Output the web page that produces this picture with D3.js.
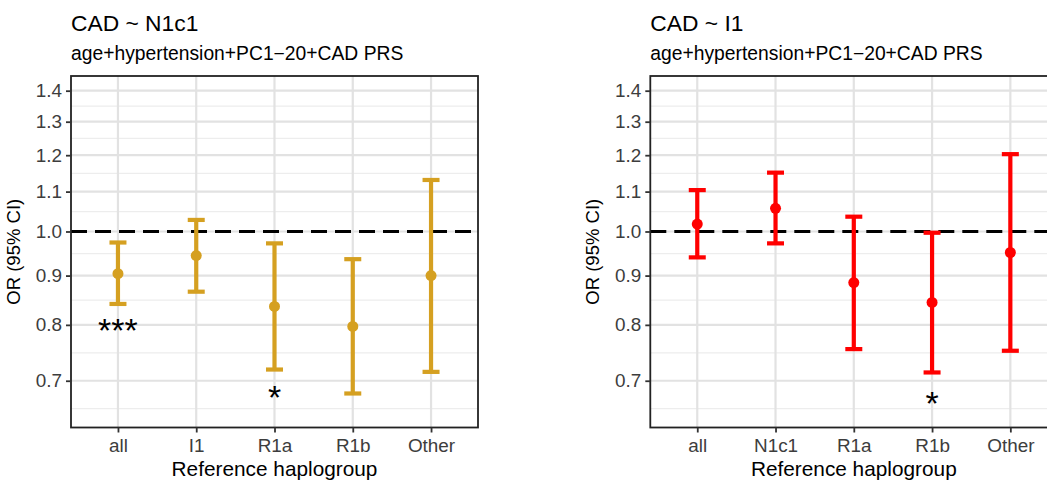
<!DOCTYPE html>
<html>
<head>
<meta charset="utf-8">
<script src="https://cdn.jsdelivr.net/npm/d3@7"></script>
<style>
  body { margin: 0; background: #fff; }
  svg { display: block; font-family: "Liberation Sans", Arial, sans-serif; }
</style>
</head>
<body>
<div id="chart"></div>
<script>
// values
var catsN1c1 = ["all", "I1", "R1a", "R1b", "Other"];
var orN1c1 = [0.904, 0.944, 0.836, 0.797, 0.900];
var loN1c1 = [0.841, 0.866, 0.719, 0.679, 0.715];
var hiN1c1 = [0.974, 1.028, 0.972, 0.936, 1.131];
var starN1c1 = ["***", "", "*", "", ""];
var starYN1c1 = [0.805, null, 0.686, null, null];

var catsI1 = ["all", "N1c1", "R1a", "R1b", "Other"];
var orI1 = [1.018, 1.057, 0.885, 0.844, 0.951];
var loI1 = [0.940, 0.972, 0.755, 0.714, 0.752];
var hiI1 = [1.104, 1.151, 1.036, 0.997, 1.203];
var starI1 = ["", "", "", "*", ""];
var starYI1 = [null, null, null, 0.675, null];

var yTicks = [0.7, 0.8, 0.9, 1.0, 1.1, 1.2, 1.3, 1.4];
var yDomain = [0.626, 1.45];

var W = 1047, H = 481;
var svg = d3.select("#chart").append("svg").attr("width", W).attr("height", H);

// note: "top" is taken by window.top, so panel edges get other names
var pTop = 76, pBottom = 427.5, pw = 407;

var y = d3.scaleLog().domain(yDomain).range([pBottom, pTop]);

// minor breaks: midpoints in log space, plus one below the first major
var lt = yTicks.map(Math.log);
var minor = [];
minor.push(Math.exp(lt[0] - (lt[1] - lt[0]) / 2));
for (var i = 0; i < lt.length - 1; i++) minor.push(Math.exp((lt[i] + lt[i + 1]) / 2));

function panel(x0, title, cats, or, lo, hi, stars, starY, colour) {
    var g = svg.append("g");
    var x = d3.scalePoint().domain(cats).range([x0, x0 + pw]).padding(0.6);

    // grid
    g.selectAll(".minor").data(minor).enter().append("line")
        .attr("x1", x0).attr("x2", x0 + pw)
        .attr("y1", function (d) { return y(d); }).attr("y2", function (d) { return y(d); })
        .attr("stroke", "#EDEDED").attr("stroke-width", 1.2);
    g.selectAll(".major").data(yTicks).enter().append("line")
        .attr("x1", x0).attr("x2", x0 + pw)
        .attr("y1", function (d) { return y(d); }).attr("y2", function (d) { return y(d); })
        .attr("stroke", "#E2E2E2").attr("stroke-width", 2.2);
    g.selectAll(".vgrid").data(cats).enter().append("line")
        .attr("x1", function (d) { return x(d); }).attr("x2", function (d) { return x(d); })
        .attr("y1", pTop).attr("y2", pBottom)
        .attr("stroke", "#E2E2E2").attr("stroke-width", 2.2);

    // reference line
    g.append("line")
        .attr("x1", x0).attr("x2", x0 + pw).attr("y1", y(1)).attr("y2", y(1))
        .attr("stroke", "#000").attr("stroke-width", 3.2).attr("stroke-dasharray", "16,8");

    // error bars
    var idx = d3.range(cats.length);
    var cw = 8.5;
    g.selectAll(".ci").data(idx).enter().append("line")
        .attr("x1", function (i) { return x(cats[i]); }).attr("x2", function (i) { return x(cats[i]); })
        .attr("y1", function (i) { return y(lo[i]); }).attr("y2", function (i) { return y(hi[i]); })
        .attr("stroke", colour).attr("stroke-width", 4.2);
    g.selectAll(".capHi").data(idx).enter().append("line")
        .attr("x1", function (i) { return x(cats[i]) - cw; }).attr("x2", function (i) { return x(cats[i]) + cw; })
        .attr("y1", function (i) { return y(hi[i]); }).attr("y2", function (i) { return y(hi[i]); })
        .attr("stroke", colour).attr("stroke-width", 4.2);
    g.selectAll(".capLo").data(idx).enter().append("line")
        .attr("x1", function (i) { return x(cats[i]) - cw; }).attr("x2", function (i) { return x(cats[i]) + cw; })
        .attr("y1", function (i) { return y(lo[i]); }).attr("y2", function (i) { return y(lo[i]); })
        .attr("stroke", colour).attr("stroke-width", 4.2);
    g.selectAll(".pt").data(idx).enter().append("circle")
        .attr("cx", function (i) { return x(cats[i]); })
        .attr("cy", function (i) { return y(or[i]); })
        .attr("r", 5.5).attr("fill", colour);

    // significance stars
    var fs = 34;
    g.selectAll(".star").data(idx.filter(function (i) { return stars[i] !== ""; })).enter().append("text")
        .attr("x", function (i) { return x(cats[i]); })
        .attr("y", function (i) { return y(starY[i]) + fs * 0.57; })
        .attr("text-anchor", "middle").attr("font-size", fs + "px").attr("fill", "#000")
        .text(function (i) { return stars[i]; });

    // border
    g.append("rect").attr("x", x0).attr("y", pTop).attr("width", pw).attr("height", pBottom - pTop)
        .attr("fill", "none").attr("stroke", "#222").attr("stroke-width", 1.8);

    // axes
    var yAxis = d3.axisLeft(y).tickValues(yTicks).tickFormat(d3.format(".1f")).tickSize(5).tickPadding(4);
    var ya = g.append("g").attr("transform", "translate(" + x0 + ",0)").call(yAxis);
    var xAxis = d3.axisBottom(x).tickSize(5).tickPadding(4);
    var xa = g.append("g").attr("transform", "translate(0," + pBottom + ")").call(xAxis);
    [ya, xa].forEach(function (a) {
        a.select(".domain").remove();
        a.selectAll(".tick line").attr("stroke", "#333").attr("stroke-width", 1.8);
        a.selectAll(".tick text").attr("fill", "#3D3D3D").attr("font-size", "18.9px")
            .attr("font-family", "Liberation Sans, Arial, sans-serif");
    });
    xa.selectAll(".tick text").attr("dy", null).attr("y", 24.5);

    // titles
    g.append("text").attr("x", x0).attr("y", 30.5).attr("font-size", "22.8px").attr("fill", "#000").text(title);
    g.append("text").attr("x", x0).attr("y", 60).attr("font-size", "19.3px").attr("fill", "#000")
        .text("age+hypertension+PC1\u221220+CAD PRS");
    g.append("text").attr("x", x0 + pw / 2).attr("y", 476).attr("text-anchor", "middle")
        .attr("font-size", "20.8px").attr("fill", "#000").text("Reference haplogroup");
    g.append("text").attr("transform", "translate(" + (x0 - 51) + "," + ((pTop + pBottom) / 2) + ") rotate(-90)")
        .attr("text-anchor", "middle").attr("font-size", "18.5px").attr("fill", "#000").text("OR (95% CI)");
}

panel(71, "CAD ~ N1c1", catsN1c1, orN1c1, loN1c1, hiN1c1, starN1c1, starYN1c1, "#D5A021");
panel(650.3, "CAD ~ I1", catsI1, orI1, loI1, hiI1, starI1, starYI1, "#FF0000");
</script>
</body>
</html>
